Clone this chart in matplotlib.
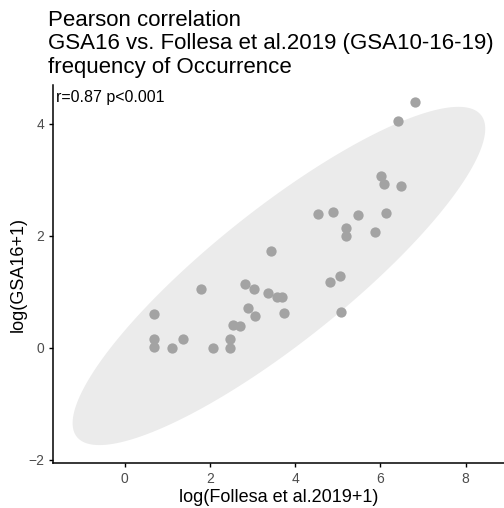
import numpy as np
import matplotlib
matplotlib.use("Agg")
import matplotlib.pyplot as plt

plt.rcParams['font.family'] = ['Liberation Sans', 'DejaVu Sans']

# log(Follesa et al.2019+1) vs log(GSA16+1)
follesa = [0.69, 0.69, 0.69, 1.10, 1.38, 1.79, 2.07, 2.47, 2.47, 2.55,
           2.71, 2.83, 3.04, 2.89, 3.05, 3.36, 3.57, 3.70, 3.74, 3.43,
           4.54, 4.89, 5.48, 6.14, 5.20, 5.19, 5.88, 5.05, 4.81, 5.08,
           6.02, 6.08, 6.49, 6.41, 6.82]
gsa16 = [0.60, 0.16, 0.01, 0.00, 0.16, 1.05, 0.00, 0.16, 0.00, 0.41,
         0.38, 1.14, 1.05, 0.71, 0.57, 0.98, 0.91, 0.90, 0.61, 1.73,
         2.38, 2.43, 2.36, 2.40, 2.13, 1.99, 2.07, 1.28, 1.17, 0.63,
         3.07, 2.92, 2.88, 4.05, 4.38]

# 95% ellipse: centre, half extents along x / y, correlation
ellipse_center = [3.62, 1.28]
ellipse_half_x = 4.84
ellipse_half_y = 3.02
ellipse_rho = 0.87

title = "Pearson correlation\nGSA16 vs. Follesa et al.2019 (GSA10-16-19)\nfrequency of Occurrence"
cor_label = "r=0.87 p<0.001"
x_ticks = [0, 2, 4, 6, 8]
y_ticks = [-2, 0, 2, 4]

# ellipse outline
t = np.linspace(0, 2 * np.pi, 300)
ex = ellipse_center[0] + ellipse_half_x * np.cos(t)
ey = ellipse_center[1] + ellipse_half_y * (ellipse_rho * np.cos(t)
                                           + np.sqrt(1 - ellipse_rho ** 2) * np.sin(t))

fig = plt.figure(figsize=(5.04, 5.08), dpi=100)
ax = fig.add_axes([53 / 504, 1 - 463 / 508, 451 / 504, 378 / 508])

ax.fill(ex, ey, color='#ebebeb', lw=0, zorder=1)
ax.scatter(follesa, gsa16, s=55, color='#a3a3a3', lw=0, zorder=2)

ax.text(-1.6, 4.47, cor_label, fontsize=11.5, ha='left', va='center')

ax.set_xlim(-1.68, 8.9)
ax.set_ylim(-2.06, 4.69)
ax.set_xticks(x_ticks)
ax.set_yticks(y_ticks)
ax.tick_params(colors='black', labelcolor='#4d4d4d', labelsize=10, length=3, width=1)
for side in ['top', 'right']:
    ax.spines[side].set_visible(False)
for side in ['left', 'bottom']:
    ax.spines[side].set_linewidth(1.1)

ax.set_xlabel("log(Follesa et al.2019+1)", fontsize=13, labelpad=2)
ax.set_ylabel("log(GSA16+1)", fontsize=13, labelpad=1)

fig.text(48 / 504, 1 - 10 / 508, title, fontsize=16, ha='left', va='top', linespacing=1.15)

fig.savefig("out.png", dpi=100)
